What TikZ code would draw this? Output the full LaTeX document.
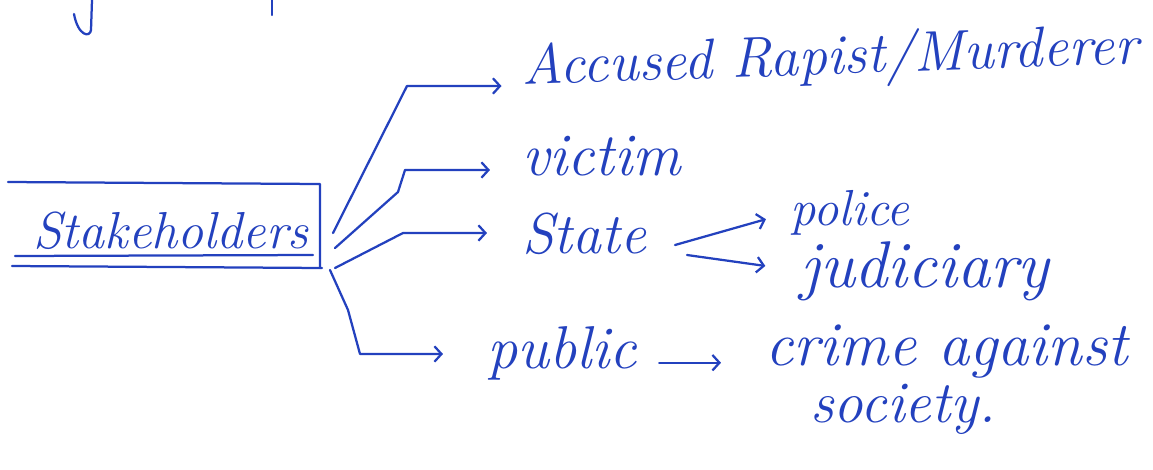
\documentclass[tikz,border=0pt]{standalone}
\usepackage{tikz}
\usetikzlibrary{arrows.meta,calc,positioning}
\definecolor{inkblue}{RGB}{35,65,190}
\tikzset{
  ink/.style={draw=inkblue,line width=1.6pt,line cap=round,line join=round},
  link/.style={ink,-{Straight Barb[length=5pt,width=11pt]},shorten >=#1},
  link/.default=0.6cm,
  word/.style={text=inkblue,inner sep=0pt,anchor=base west,font=\fontsize{#1}{#1}\selectfont\itshape},
  word/.default=42
}
\begin{document}
\begin{tikzpicture}[x=0.025cm,y=-0.025cm]
  \useasboundingbox (0,0) rectangle (1153,469);
  % left over strokes from the line above
  \draw[ink] (92,0) -- (91,30) .. controls (90,38) and (78,36) .. (74,14);
  \draw[ink] (272,0) -- (272,15);
  % stakeholders box
  \node[word=37] (stake) at (33,248) {Stakeholders};
  \draw[ink] (8,182) -- (320,184) -- (320,268);
  \draw[ink] (15,256) -- (313,255);
  \draw[ink] (12,266) -- (322,268);
  % first level
  \node[word=40.5,rotate=2] (acc) at (522,85) {Accused Rapist/Murderer};
  \node[word=43] (vic) at (522,175) {victim};
  \node[word=41] (state) at (522,253) {State};
  \node[word=43] (pub) at (487,368) {public};
  % second level
  \node[word=36] (pol) at (790,225) {police};
  \node[word=47] (jud) at (800,287) {judiciary};
  \node[word=44.5] (crime) at (765,365) {crime against};
  \node[word=42] (soc) at (810,422) {society.};
  % branches out of the box
  \coordinate (s1) at (333,233);
  \coordinate (k1) at (407,86);
  \draw[link=0.5cm] (s1) -- (k1) -- (k1 -| acc.west);
  \coordinate (s2) at (335,248);
  \coordinate (b2) at (398,192);
  \coordinate (k2) at (405,170);
  \draw[link=0.8cm] (s2) -- (b2) -- (k2) -- (k2 -| vic.west);
  \coordinate (s3) at (335,268);
  \coordinate (k3) at (403,233);
  \draw[link=0.875cm] (s3) -- (k3) -- (k3 -| state.west);
  \coordinate (s4) at (330,270);
  \coordinate (b4) at (348,310);
  \coordinate (k4) at (360,354);
  \draw[link=1.1cm] (s4) -- (b4) -- (k4) -- (k4 -| pub.west);
  % state fork and public
  \coordinate (fu) at (675,245);
  \coordinate (fl) at (687,255);
  \draw[link=0.625cm] (fu) -- (pol.west);
  \draw[link=0.875cm] (fl) -- (jud.west);
  \draw[link=1.1cm,shorten <=0.55cm] ([yshift=-7pt]pub.east) -- ([yshift=-7pt]pub.east -| crime.west);
\end{tikzpicture}
\end{document}
